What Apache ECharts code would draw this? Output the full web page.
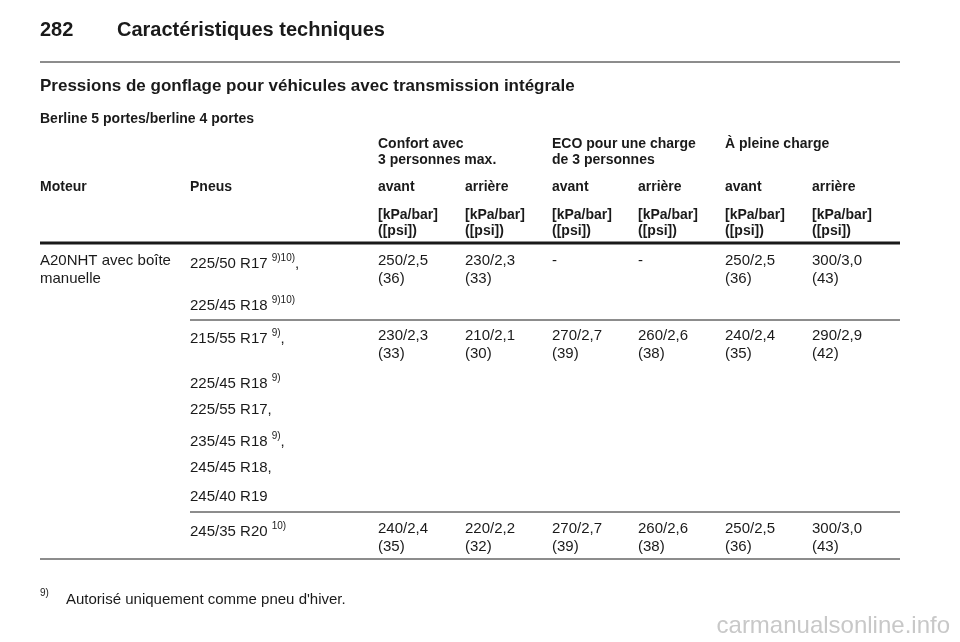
<!DOCTYPE html>
<html><head><meta charset="utf-8">
<script src="https://cdn.jsdelivr.net/npm/echarts@6/dist/echarts.min.js"></script>
<style>html,body{margin:0;padding:0;background:#fff}#c{width:960px;height:642px}</style>
</head><body><div id="c"></div>
<script>
const pageNo = "282";
const pageTitle = "Caractéristiques techniques";
const tableTitle = "Pressions de gonflage pour véhicules avec transmission intégrale";
const subTitle = "Berline 5 portes/berline 4 portes";
const groupHeaders = [["Confort avec","3 personnes max."],["ECO pour une charge","de 3 personnes"],["À pleine charge",""]];
const colHeaders = ["Moteur","Pneus","avant","arrière","avant","arrière","avant","arrière"];
const unitLabel = ["[kPa/bar]","([psi])"];
const engines = [["A20NHT avec boîte","manuelle"]];
const tyres1 = [["225/50 R17","9)10)",","],["225/45 R18","9)10)",""]];
const values1 = [["250/2,5","(36)"],["230/2,3","(33)"],["-",""],["-",""],["250/2,5","(36)"],["300/3,0","(43)"]];
const tyres2 = [["215/55 R17","9)",","],["225/45 R18","9)",""],["225/55 R17,","",""],["235/45 R18","9)",","],["245/45 R18,","",""],["245/40 R19","",""]];
const values2 = [["230/2,3","(33)"],["210/2,1","(30)"],["270/2,7","(39)"],["260/2,6","(38)"],["240/2,4","(35)"],["290/2,9","(42)"]];
const tyres3 = [["245/35 R20","10)",""]];
const values3 = [["240/2,4","(35)"],["220/2,2","(32)"],["270/2,7","(39)"],["260/2,6","(38)"],["250/2,5","(36)"],["300/3,0","(43)"]];
const footnote = ["9)","Autorisé uniquement comme pneu d'hiver."];
const watermark = "carmanualsonline.info";

const colX = [40,190,378,465,552,638,725,812];
const F = "Liberation Sans, Arial, sans-serif";
const g = [];
function txt(x,y,s,size,bold,color){g.push({type:'text',left:x,top:y,style:{text:s,font:(bold?'bold ':'')+size+'px '+F,fill:color||'#1a1a1a'}});}
function line(x1,x2,y,w){g.push({type:'line',shape:{x1:x1,y1:y,x2:x2,y2:y},style:{stroke:'#1a1a1a',lineWidth:w}});}
function tyre(x,y,t){
  g.push({type:'text',left:x,top:y-4,style:{rich:{n:{font:'15px '+F,fill:'#1a1a1a',verticalAlign:'bottom'},s:{font:'10px '+F,fill:'#1a1a1a',padding:[0,0,8,0]}},text:'{n|'+t[0]+' }'+(t[1]?'{s|'+t[1]+'}':'')+(t[2]?'{n|'+t[2]+'}':''),font:'15px '+F}});
}
txt(40,20,pageNo,20,true); txt(117,20,pageTitle,20,true);
line(40,900,62,1);
txt(40,78,tableTitle,17,true);
txt(40,112,subTitle,14,true);
groupHeaders.forEach((h,i)=>{txt(colX[2+i*2],137,h[0],14,true);txt(colX[2+i*2],153,h[1],14,true);});
colHeaders.forEach((h,i)=>txt(colX[i],180,h,14,true));
for(let i=2;i<8;i++){txt(colX[i],208,unitLabel[0],14,true);txt(colX[i],224,unitLabel[1],14,true);}
line(40,900,243,3);
txt(40,253,engines[0][0],15); txt(40,271,engines[0][1],15);
const t1y=[257,299]; tyres1.forEach((t,i)=>tyre(190,t1y[i],t));
values1.forEach((v,i)=>{txt(colX[2+i],253,v[0],15);txt(colX[2+i],271,v[1],15);});
line(190,900,320,1);
const t2y=[332,377,406,435,464,493]; tyres2.forEach((t,i)=>tyre(190,t2y[i],t));
values2.forEach((v,i)=>{txt(colX[2+i],328,v[0],15);txt(colX[2+i],346,v[1],15);});
line(190,900,512,1);
tyres3.forEach(t=>tyre(190,525,t));
values3.forEach((v,i)=>{txt(colX[2+i],521,v[0],15);txt(colX[2+i],539,v[1],15);});
line(40,900,559,1);
txt(40,588,footnote[0],10); txt(66,592,footnote[1],15);
g.push({type:'text',right:10,top:614,style:{text:watermark,font:'24px '+F,fill:'#c8c8c8'}});
const chart = echarts.init(document.getElementById('c'));
chart.setOption({animation:false,graphic:g});
</script></body></html>
